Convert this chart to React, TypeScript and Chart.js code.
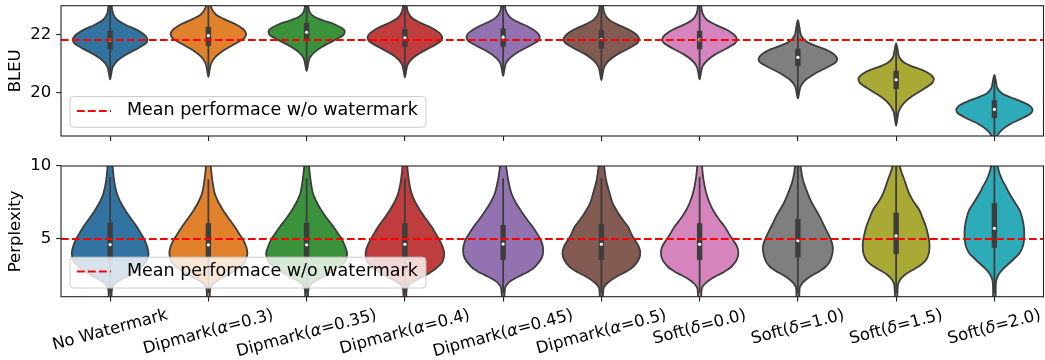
import React, { useEffect, useRef } from "react";
import { Chart, registerables } from "chart.js";

Chart.register(...registerables);

const FONT = "'DejaVu Sans', 'Liberation Sans', sans-serif";

// ---------- shared data ----------
const categories = [
  "No Watermark",
  "Dipmark(α=0.3)",
  "Dipmark(α=0.35)",
  "Dipmark(α=0.4)",
  "Dipmark(α=0.45)",
  "Dipmark(α=0.5)",
  "Soft(δ=0.0)",
  "Soft(δ=1.0)",
  "Soft(δ=1.5)",
  "Soft(δ=2.0)",
];
const colors = [
  "#3274a1", "#e1812c", "#3a923a", "#c03d3e", "#9372b2",
  "#845b53", "#d684bd", "#7f7f7f", "#a9aa35", "#2eabb8",
];
const legendLabel = "Mean performace w/o watermark";

// ---------- BLEU panel ----------
const bleuRange = [18.51, 22.98];
const bleuTicks = [20, 22];
const bleuMean = 21.8;
const bleuValues = [
  [23.25, 22.99, 22.70, 22.48, 22.32, 22.16, 22.00, 21.89, 21.80, 21.68, 21.50, 21.30, 21.10, 20.90, 20.71, 20.45],
  [23.45, 23.19, 22.90, 22.68, 22.52, 22.36, 22.20, 22.09, 22.00, 21.87, 21.68, 21.46, 21.24, 21.02, 20.82, 20.54],
  [23.18, 22.98, 22.76, 22.60, 22.48, 22.36, 22.23, 22.15, 22.08, 21.96, 21.79, 21.58, 21.38, 21.18, 20.99, 20.74],
  [23.32, 23.06, 22.77, 22.55, 22.39, 22.23, 22.07, 21.96, 21.87, 21.75, 21.57, 21.37, 21.17, 20.97, 20.78, 20.52],
  [23.34, 23.08, 22.79, 22.57, 22.41, 22.25, 22.09, 21.98, 21.89, 21.77, 21.60, 21.40, 21.20, 21.01, 20.82, 20.57],
  [23.27, 23.01, 22.72, 22.50, 22.34, 22.18, 22.02, 21.91, 21.82, 21.69, 21.51, 21.31, 21.10, 20.89, 20.69, 20.43],
  [23.26, 23.00, 22.71, 22.49, 22.33, 22.17, 22.01, 21.90, 21.81, 21.69, 21.51, 21.31, 21.10, 20.90, 20.71, 20.45],
  [22.48, 22.24, 21.97, 21.77, 21.62, 21.48, 21.33, 21.22, 21.14, 21.02, 20.85, 20.64, 20.44, 20.24, 20.05, 19.80],
  [21.69, 21.47, 21.22, 21.04, 20.90, 20.77, 20.63, 20.53, 20.46, 20.32, 20.11, 19.87, 19.63, 19.39, 19.16, 18.86],
  [20.61, 20.39, 20.15, 19.97, 19.84, 19.70, 19.57, 19.47, 19.40, 19.28, 19.11, 18.92, 18.72, 18.53, 18.35, 18.10],
];
const bleuDensity = [
  [0, 0.038, 0.076, 0.19, 0.40, 0.665, 0.855, 0.93, 0.95, 0.90, 0.684, 0.40, 0.19, 0.076, 0.038, 0],
  [0, 0.038, 0.077, 0.192, 0.403, 0.672, 0.864, 0.94, 0.96, 0.912, 0.691, 0.403, 0.192, 0.077, 0.038, 0],
  [0, 0.039, 0.078, 0.194, 0.407, 0.679, 0.873, 0.951, 0.97, 0.922, 0.698, 0.407, 0.194, 0.078, 0.039, 0],
  [0, 0.038, 0.076, 0.19, 0.40, 0.665, 0.855, 0.93, 0.95, 0.90, 0.684, 0.40, 0.19, 0.076, 0.038, 0],
  [0, 0.037, 0.074, 0.186, 0.391, 0.651, 0.837, 0.911, 0.93, 0.884, 0.67, 0.391, 0.186, 0.074, 0.037, 0],
  [0, 0.038, 0.077, 0.192, 0.403, 0.672, 0.864, 0.94, 0.96, 0.912, 0.691, 0.403, 0.192, 0.077, 0.038, 0],
  [0, 0.038, 0.076, 0.19, 0.40, 0.665, 0.855, 0.93, 0.95, 0.90, 0.684, 0.40, 0.19, 0.076, 0.038, 0],
  [0, 0.04, 0.08, 0.20, 0.42, 0.70, 0.90, 0.98, 1.0, 0.95, 0.72, 0.42, 0.20, 0.08, 0.04, 0],
  [0, 0.038, 0.077, 0.192, 0.403, 0.672, 0.864, 0.94, 0.96, 0.912, 0.691, 0.403, 0.192, 0.077, 0.038, 0],
  [0, 0.039, 0.078, 0.194, 0.407, 0.679, 0.873, 0.951, 0.97, 0.922, 0.698, 0.407, 0.194, 0.078, 0.039, 0],
];
const bleuQ1 = [21.48, 21.60, 21.77, 21.57, 21.57, 21.51, 21.48, 20.91, 20.12, 19.12];
const bleuMedian = [21.80, 21.95, 22.07, 21.88, 21.90, 21.82, 21.81, 21.21, 20.44, 19.42];
const bleuQ3 = [22.12, 22.25, 22.39, 22.18, 22.20, 22.14, 22.12, 21.51, 20.75, 19.74];
const bleuWhiskerLow = [20.50, 20.60, 20.80, 20.60, 20.62, 20.50, 20.50, 19.88, 18.95, 18.20];
const bleuWhiskerHigh = [23.10, 23.20, 23.30, 23.10, 23.15, 23.10, 23.08, 22.41, 21.60, 20.55];

// ---------- Perplexity panel ----------
const pplRange = [1.05, 10.0];
const pplTicks = [5, 10];
const pplMean = 5.0;
const pplValues = [
  [11, 10, 9.04, 8.13, 7.5, 6.99, 6.4, 5.84, 5.3, 4.93, 4.4, 3.95, 3.4, 3.0, 2.6, 2.42, 2.2, 1.97, 1.7, 1.4, 0.5],
  [11, 10, 9.04, 8.13, 7.5, 6.99, 6.4, 5.84, 5.3, 4.93, 4.4, 3.95, 3.4, 3.0, 2.6, 2.42, 2.2, 1.97, 1.7, 1.4, 0.5],
  [11, 10, 9.04, 8.13, 7.5, 6.99, 6.4, 5.84, 5.3, 4.93, 4.4, 3.95, 3.4, 3.0, 2.6, 2.42, 2.2, 1.97, 1.7, 1.4, 0.5],
  [11, 10, 9.04, 8.13, 7.5, 6.99, 6.4, 5.84, 5.3, 4.93, 4.4, 3.95, 3.4, 3.0, 2.6, 2.42, 2.2, 1.97, 1.7, 1.4, 0.5],
  [11, 10, 9.04, 8.13, 7.5, 6.99, 6.4, 5.84, 5.3, 4.8, 4.25, 3.7, 3.1, 2.8, 2.53, 2.3, 2.08, 1.85, 1.62, 1.0, 0.5],
  [11, 10, 9.04, 8.13, 7.5, 6.99, 6.4, 5.84, 5.3, 4.93, 4.5, 4.02, 3.6, 3.1, 2.8, 2.53, 2.25, 1.97, 1.75, 1.5, 0.5],
  [11, 10, 9.04, 8.13, 7.5, 6.99, 6.4, 5.84, 5.3, 4.93, 4.5, 4.1, 3.6, 3.1, 2.8, 2.53, 2.25, 2.0, 1.75, 1.5, 0.5],
  [11, 10, 9.04, 8.13, 7.5, 6.99, 6.4, 5.84, 5.3, 4.93, 4.6, 4.25, 3.8, 3.4, 3.1, 2.8, 2.53, 2.25, 2.0, 1.75, 1.5, 0.5],
  [11, 10, 9.04, 8.13, 7.5, 6.99, 6.4, 5.84, 5.3, 4.9, 4.47, 4.0, 3.56, 3.2, 2.88, 2.6, 2.31, 2.1, 1.9, 1.5, 0.5],
  [11, 10, 9.5, 9.04, 8.6, 8.13, 7.5, 6.99, 6.4, 5.84, 5.3, 4.82, 4.4, 4.02, 3.7, 3.34, 3.0, 2.65, 2.4, 2.19, 1.8, 0.5],
];
const pplDensity = [
  [0.03, 0.064, 0.10, 0.17, 0.27, 0.38, 0.53, 0.68, 0.80, 0.88, 0.95, 0.975, 0.91, 0.75, 0.52, 0.42, 0.26, 0.13, 0.06, 0.04, 0.025],
  [0.03, 0.06, 0.10, 0.16, 0.26, 0.37, 0.52, 0.67, 0.80, 0.89, 0.97, 0.99, 0.93, 0.76, 0.53, 0.42, 0.26, 0.13, 0.06, 0.04, 0.025],
  [0.03, 0.06, 0.10, 0.16, 0.26, 0.37, 0.52, 0.68, 0.82, 0.91, 0.99, 1.03, 0.96, 0.78, 0.54, 0.43, 0.27, 0.13, 0.06, 0.04, 0.025],
  [0.03, 0.06, 0.10, 0.17, 0.27, 0.38, 0.53, 0.68, 0.80, 0.88, 0.97, 1.0, 0.95, 0.80, 0.58, 0.46, 0.29, 0.14, 0.06, 0.04, 0.025],
  [0.04, 0.076, 0.13, 0.21, 0.32, 0.44, 0.59, 0.75, 0.88, 0.98, 1.02, 0.98, 0.81, 0.66, 0.47, 0.30, 0.17, 0.09, 0.05, 0.03, 0.025],
  [0.04, 0.07, 0.12, 0.21, 0.28, 0.38, 0.52, 0.68, 0.77, 0.85, 0.95, 0.99, 0.95, 0.81, 0.65, 0.46, 0.28, 0.15, 0.08, 0.05, 0.025],
  [0.03, 0.06, 0.10, 0.17, 0.25, 0.34, 0.48, 0.64, 0.76, 0.85, 0.95, 0.985, 0.95, 0.81, 0.65, 0.47, 0.28, 0.16, 0.08, 0.05, 0.025],
  [0.04, 0.07, 0.13, 0.25, 0.35, 0.46, 0.58, 0.68, 0.78, 0.84, 0.88, 0.89, 0.86, 0.80, 0.71, 0.55, 0.38, 0.22, 0.12, 0.06, 0.04, 0.025],
  [0.05, 0.09, 0.21, 0.33, 0.46, 0.59, 0.68, 0.76, 0.81, 0.84, 0.85, 0.83, 0.76, 0.62, 0.42, 0.25, 0.13, 0.08, 0.05, 0.035, 0.025],
  [0.05, 0.085, 0.13, 0.20, 0.29, 0.38, 0.52, 0.64, 0.71, 0.75, 0.76, 0.75, 0.71, 0.64, 0.52, 0.38, 0.24, 0.13, 0.08, 0.05, 0.035, 0.025],
];
const pplQ1 = [3.56, 3.67, 3.67, 3.67, 3.56, 3.56, 3.56, 3.74, 3.97, 4.40];
const pplMedian = [4.62, 4.60, 4.60, 4.64, 4.66, 4.64, 4.64, 4.88, 5.21, 5.73];
const pplQ3 = [6.12, 6.08, 6.12, 6.08, 5.96, 6.03, 6.08, 6.37, 6.80, 7.45];
const pplWhiskerLow = [1.3, 1.3, 1.3, 1.3, 1.3, 1.3, 1.3, 1.3, 1.3, 1.3];
const pplWhiskerHigh = [9.27, 9.10, 9.16, 9.16, 9.16, 9.16, 9.27, 10.5, 10.5, 10.5];

// ---------- drawing helpers ----------
const EDGE = "#3d3d3d";

type Panel = {
  title: string;
  range: number[];
  ticks: number[];
  mean: number;
  values: number[][];
  density: number[][];
  q1: number[];
  median: number[];
  q3: number[];
  wLow: number[];
  wHigh: number[];
  height: number;
  padTop: number;
  axisH: number;
  showLabels: boolean;
};

function smoothClosed(ctx: CanvasRenderingContext2D, p: number[][]) {
  const n = p.length;
  ctx.beginPath();
  ctx.moveTo(p[0][0], p[0][1]);
  for (let i = 0; i < n; i++) {
    const p0 = p[(i - 1 + n) % n];
    const p1 = p[i];
    const p2 = p[(i + 1) % n];
    const p3 = p[(i + 2) % n];
    const c1x = p1[0] + (p2[0] - p0[0]) / 6;
    const c1y = p1[1] + (p2[1] - p0[1]) / 6;
    const c2x = p2[0] - (p3[0] - p1[0]) / 6;
    const c2y = p2[1] - (p3[1] - p1[1]) / 6;
    ctx.bezierCurveTo(c1x, c1y, c2x, c2y, p2[0], p2[1]);
  }
  ctx.closePath();
}

function violinPlugin(p: Panel) {
  return {
    id: "violinLayer",
    beforeDatasetsDraw(chart: any) {
      const { ctx, chartArea: a, scales } = chart;
      const xs = scales.x;
      const ys = scales.y;
      const unit = xs.getPixelForValue(1) - xs.getPixelForValue(0);
      ctx.save();
      ctx.beginPath();
      ctx.rect(a.left, a.top, a.right - a.left, a.bottom - a.top);
      ctx.clip();
      p.values.forEach((vals, i) => {
        const cx = xs.getPixelForValue(i);
        const half = p.density[i].map((d) => d * 0.4 * unit);
        const right = vals.map((v, k) => [cx + half[k], ys.getPixelForValue(v)]);
        const left = vals.map((v, k) => [cx - half[k], ys.getPixelForValue(v)]).reverse();
        const all = right.concat(left);
        const pts: number[][] = [];
        all.forEach((pt) => {
          const last = pts[pts.length - 1];
          if (!last || Math.abs(last[0] - pt[0]) > 0.01 || Math.abs(last[1] - pt[1]) > 0.01) pts.push(pt);
        });
        const f = pts[0], l = pts[pts.length - 1];
        if (Math.abs(f[0] - l[0]) < 0.01 && Math.abs(f[1] - l[1]) < 0.01) pts.pop();
        smoothClosed(ctx, pts);
        ctx.fillStyle = colors[i];
        ctx.fill();
        ctx.lineWidth = 1.8;
        ctx.strokeStyle = EDGE;
        ctx.lineJoin = "round";
        ctx.stroke();

        // inner box
        ctx.beginPath();
        ctx.moveTo(cx, ys.getPixelForValue(p.wLow[i]));
        ctx.lineTo(cx, ys.getPixelForValue(p.wHigh[i]));
        ctx.lineWidth = 1.8;
        ctx.strokeStyle = EDGE;
        ctx.stroke();
        const yq3 = ys.getPixelForValue(p.q3[i]);
        const yq1 = ys.getPixelForValue(p.q1[i]);
        ctx.fillStyle = EDGE;
        ctx.fillRect(cx - 2.7, yq3, 5.4, yq1 - yq3);
        ctx.beginPath();
        ctx.arc(cx, ys.getPixelForValue(p.median[i]), 1.6, 0, Math.PI * 2);
        ctx.fillStyle = "#ffffff";
        ctx.fill();
      });
      ctx.restore();
    },
  };
}

const framePlugin = {
  id: "frameLayer",
  afterDatasetsDraw(chart: any) {
    const { ctx, chartArea: a } = chart;
    ctx.save();
    ctx.strokeStyle = "#222222";
    ctx.lineWidth = 1.1;
    ctx.strokeRect(a.left, a.top, a.right - a.left, a.bottom - a.top);
    ctx.restore();
  },
};

const legendPlugin = {
  id: "legendLayer",
  afterDatasetsDraw(chart: any) {
    const ds = chart.data.datasets[0];
    const { ctx, chartArea: a } = chart;
    const fs = 17.5;
    ctx.save();
    ctx.font = `${fs}px ${FONT}`;
    const tw = ctx.measureText(ds.label).width;
    const h = 30.8;
    const x0 = a.left + 9;
    const y1 = a.bottom - 8.7;
    const y0 = y1 - h;
    const w = 57 + tw + 8;
    const r = 3.5;
    ctx.beginPath();
    ctx.moveTo(x0 + r, y0);
    ctx.lineTo(x0 + w - r, y0);
    ctx.arcTo(x0 + w, y0, x0 + w, y0 + r, r);
    ctx.lineTo(x0 + w, y1 - r);
    ctx.arcTo(x0 + w, y1, x0 + w - r, y1, r);
    ctx.lineTo(x0 + r, y1);
    ctx.arcTo(x0, y1, x0, y1 - r, r);
    ctx.lineTo(x0, y0 + r);
    ctx.arcTo(x0, y0, x0 + r, y0, r);
    ctx.closePath();
    ctx.fillStyle = "rgba(255,255,255,0.8)";
    ctx.fill();
    ctx.strokeStyle = "#cccccc";
    ctx.lineWidth = 1;
    ctx.stroke();
    const cy = y0 + h / 2 - 1;
    ctx.setLineDash(ds.borderDash);
    ctx.strokeStyle = ds.borderColor;
    ctx.lineWidth = ds.borderWidth;
    ctx.beginPath();
    ctx.moveTo(x0 + 7, cy);
    ctx.lineTo(x0 + 41, cy);
    ctx.stroke();
    ctx.setLineDash([]);
    ctx.fillStyle = "#000000";
    ctx.textAlign = "left";
    ctx.textBaseline = "middle";
    ctx.fillText(ds.label, x0 + 57, cy);
    ctx.restore();
  },
};

const xLabelPlugin = {
  id: "xLabelLayer",
  afterDraw(chart: any) {
    const { ctx, chartArea: a, scales } = chart;
    const xs = scales.x;
    const fs = 16.5;
    const ang = (15 * Math.PI) / 180;
    const lh = fs * 1.16;
    categories.forEach((lab, i) => {
      const segs = lab
        .split(/([αδ])/)
        .filter((s) => s.length > 0)
        .map((t) => ({ t, it: /[αδ]/.test(t) }));
      const widths = segs.map((s) => {
        ctx.font = `${s.it ? "italic " : ""}${fs}px ${FONT}`;
        return ctx.measureText(s.t).width;
      });
      const w = widths.reduce((acc, c) => acc + c, 0);
      const bh = w * Math.sin(ang) + lh * Math.cos(ang);
      const cx = xs.getPixelForValue(i);
      const cy = a.bottom + 9 + bh / 2;
      ctx.save();
      ctx.translate(cx, cy);
      ctx.rotate(-ang);
      ctx.textAlign = "left";
      ctx.textBaseline = "middle";
      ctx.fillStyle = "#000000";
      let px = -w / 2;
      segs.forEach((s, k) => {
        ctx.font = `${s.it ? "italic " : ""}${fs}px ${FONT}`;
        ctx.fillText(s.t, px, 0);
        px += widths[k];
      });
      ctx.restore();
    });
  },
};

function buildConfig(p: Panel): any {
  const plugins: any[] = [violinPlugin(p), framePlugin, legendPlugin];
  if (p.showLabels) plugins.push(xLabelPlugin);
  return {
    type: "line",
    data: {
      datasets: [
        {
          label: legendLabel,
          data: [
            { x: -0.5, y: p.mean },
            { x: 9.5, y: p.mean },
          ],
          borderColor: "#ff0000",
          borderWidth: 2,
          borderDash: [7.7, 3.3],
          pointRadius: 0,
          fill: false,
        },
      ],
    },
    options: {
      responsive: false,
      animation: false,
      events: [],
      layout: { padding: { top: p.padTop, right: 1.5, left: 0, bottom: 0 } },
      plugins: { legend: { display: false }, tooltip: { enabled: false } },
      scales: {
        x: {
          type: "linear",
          min: -0.5,
          max: 9.5,
          afterBuildTicks: (s: any) => {
            s.ticks = categories.map((_, i) => ({ value: i }));
          },
          afterFit: (s: any) => {
            s.height = p.axisH;
            s.paddingLeft = 0;
            s.paddingRight = 0;
          },
          ticks: { display: false },
          grid: {
            drawOnChartArea: false,
            drawTicks: true,
            tickLength: 4.9,
            tickColor: "#222222",
            tickWidth: 1.1,
            lineWidth: 1.1,
          },
          border: { display: false },
        },
        y: {
          type: "linear",
          min: p.range[0],
          max: p.range[1],
          afterBuildTicks: (s: any) => {
            s.ticks = p.ticks.map((v) => ({ value: v }));
          },
          afterFit: (s: any) => {
            s.width = 61;
            s.paddingTop = 0;
            s.paddingBottom = 0;
          },
          ticks: {
            font: { family: FONT, size: 16.5 },
            color: "#000000",
            padding: 4.9,
            callback: (v: any) => String(v),
          },
          grid: {
            drawOnChartArea: false,
            drawTicks: true,
            tickLength: 4.9,
            tickColor: "#222222",
            tickWidth: 1.1,
            lineWidth: 1.1,
          },
          border: { display: false },
          title: {
            display: true,
            text: p.title,
            font: { family: FONT, size: 16.5 },
            color: "#000000",
            padding: { top: 6, bottom: 0 },
          },
        },
      },
    },
    plugins,
  };
}

const bleuPanel: Panel = {
  title: "BLEU",
  range: bleuRange,
  ticks: bleuTicks,
  mean: bleuMean,
  values: bleuValues,
  density: bleuDensity,
  q1: bleuQ1,
  median: bleuMedian,
  q3: bleuQ3,
  wLow: bleuWhiskerLow,
  wHigh: bleuWhiskerHigh,
  height: 150,
  padTop: 5.7,
  axisH: 14,
  showLabels: false,
};

const pplPanel: Panel = {
  title: "Perplexity",
  range: pplRange,
  ticks: pplTicks,
  mean: pplMean,
  values: pplValues,
  density: pplDensity,
  q1: pplQ1,
  median: pplMedian,
  q3: pplQ3,
  wLow: pplWhiskerLow,
  wHigh: pplWhiskerHigh,
  height: 210,
  padTop: 16,
  axisH: 63.3,
  showLabels: true,
};

function ViolinPanel({ panel, top }: { panel: Panel; top: number }) {
  const ref = useRef<HTMLCanvasElement | null>(null);
  useEffect(() => {
    if (!ref.current) return;
    const chart = new Chart(ref.current, buildConfig(panel));
    return () => chart.destroy();
  }, [panel]);
  return (
    <canvas
      ref={ref}
      width={1045}
      height={panel.height}
      style={{ position: "absolute", left: 0, top, width: 1045, height: panel.height }}
    />
  );
}

export default function App() {
  return (
    <div
      style={{
        position: "fixed",
        left: 0,
        top: 0,
        width: 1045,
        height: 360,
        background: "#ffffff",
        overflow: "hidden",
      }}
    >
      <ViolinPanel panel={bleuPanel} top={0} />
      <ViolinPanel panel={pplPanel} top={150} />
    </div>
  );
}
